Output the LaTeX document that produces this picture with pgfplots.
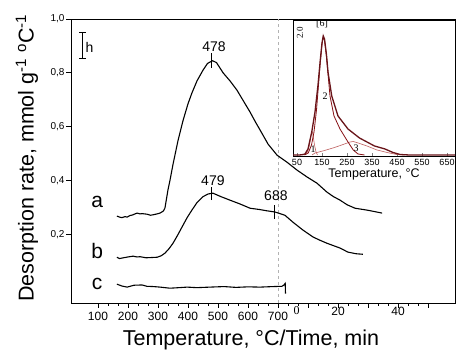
\documentclass[border=0pt]{standalone}
\usepackage{pgfplots}
\pgfplotsset{compat=1.18}
\usepackage{fontspec}
\setmainfont{Liberation Sans}
\newfontfamily\seriffont{Liberation Serif}
\definecolor{dred}{RGB}{105,20,25}
\definecolor{lred}{RGB}{190,95,95}
\begin{document}
\begin{tikzpicture}[x=1pt,y=1pt]
\useasboundingbox (0,0) rectangle (474,361);
\begin{axis}[at={(71pt,58pt)}, anchor=south west, scale only axis,
  width=384pt, height=284pt,
  xmin=10, xmax=1290, ymin=-0.055, ymax=1.0,
  axis line style={line width=0.9pt},
  tick style={black, line width=0.7pt},
  tick align=outside, xtick pos=bottom, ytick pos=left,
  major tick length=5pt, minor tick length=3pt,
  xtick={100,200,...,1200},
  xticklabels={100,200,300,400,500,600,700,{},{},{},{},{}},
  minor x tick num=2,
  extra x ticks={900,1100}, extra x tick labels={20,40},
  extra x tick style={major tick length=0pt, tick label style={font=\seriffont\fontsize{12}{14}\selectfont}},
  ytick={0.2,0.4,0.6,0.8,1.0},
  yticklabels={{0,2},{0,4},{0,6},{0,8},{1,0}},
  x tick label style={font=\fontsize{12}{14}\selectfont, yshift=-1pt},
  y tick label style={font=\fontsize{10}{12}\selectfont, xshift=2pt},
  /pgf/number format/assume math mode=true,
  clip=false]
\addplot[gray!60, dashed, line width=0.7pt] coordinates {(700,-0.055)(700,1.0)};
% curve a
\addplot[black, line width=1.1pt] coordinates {
(163,0.268)(172,0.264)(180,0.262)(190,0.266)(197,0.264)(207,0.27)(215,0.272)(230,0.279)(240,0.276)(247,0.277)(263,0.275)(275,0.271)(285,0.273)(297,0.276)(307,0.279)(318,0.287)(323,0.297)(328,0.33)(333,0.364)(340,0.401)(350,0.46)(367,0.55)(384,0.625)(400,0.685)(413,0.725)(430,0.77)(450,0.81)(465,0.835)(482,0.845)(495,0.838)(517,0.80)(540,0.77)(563,0.736)(585,0.695)(607,0.654)(625,0.617)(640,0.588)(667,0.535)(697,0.494)(730,0.468)(763,0.439)(797,0.413)(830,0.39)(863,0.357)(885,0.34)(907,0.327)(930,0.31)(957,0.297)(980,0.293)(997,0.29)(1020,0.285)(1047,0.279)};
% curve b
\addplot[black, line width=1.1pt] coordinates {
(163,0.115)(172,0.11)(180,0.112)(200,0.116)(217,0.119)(230,0.116)(240,0.117)(260,0.113)(280,0.114)(297,0.115)(310,0.12)(323,0.13)(337,0.147)(350,0.167)(365,0.196)(380,0.227)(397,0.262)(413,0.29)(430,0.318)(450,0.34)(467,0.35)(483,0.353)(510,0.34)(540,0.327)(573,0.313)(607,0.297)(640,0.292)(660,0.288)(690,0.283)(723,0.271)(750,0.245)(783,0.216)(817,0.19)(840,0.178)(863,0.167)(885,0.158)(907,0.149)(933,0.134)(960,0.128)(983,0.126)};
% curve c
\addplot[black, line width=1.1pt] coordinates {
(163,0.015)(180,0.008)(197,0.004)(220,0.011)(247,0.012)(263,0.007)(285,0.006)(307,0.004)(340,0.0)(370,0.002)(397,0.004)(430,0.002)(473,0.004)(520,0.006)(560,0.003)(600,0.005)(640,0.004)(683,0.006)(713,0.007)(720,0.012)(724,0.018)(725,-0.02)};
% peak markers
\addplot[black, line width=0.6pt] coordinates {(478,0.818)(478,0.874)};
\addplot[black, line width=0.6pt] coordinates {(479,0.327)(479,0.375)};
\addplot[black, line width=0.6pt] coordinates {(688,0.257)(688,0.309)};
% scale bar h
\addplot[black, line width=0.7pt, |-|] coordinates {(47,0.851)(47,0.952)};
\node[font=\fontsize{14}{16}\selectfont] at (axis cs:72,0.895) {h};
\node[font=\fontsize{14}{16}\selectfont] at (axis cs:487,0.896) {478};
\node[font=\fontsize{14}{16}\selectfont] at (axis cs:483,0.40) {479};
\node[font=\fontsize{14}{16}\selectfont] at (axis cs:693,0.342) {688};
\node[font=\fontsize{21}{24}\selectfont] at (axis cs:97,0.32) {a};
\node[font=\fontsize{21}{24}\selectfont] at (axis cs:97,0.14) {b};
\node[font=\fontsize{21}{24}\selectfont] at (axis cs:97,0.017) {c};
\node[font=\seriffont\fontsize{12}{14}\selectfont, anchor=north] at (axis cs:762,-0.055) {0};
\end{axis}
\begin{axis}[at={(293pt,205pt)}, anchor=south west, scale only axis,
  width=162pt, height=136pt,
  xmin=34, xmax=682, ymin=-1, ymax=135,
  axis background/.style={fill=white},
  axis line style={line width=0.8pt},
  xtick={50,150,...,650}, ytick=\empty,
  xtick pos=bottom, tick align=inside, major tick length=3pt,
  x tick label style={font=\fontsize{9}{11}\selectfont},
  /pgf/number format/assume math mode=true,
  xlabel={Temperature, °C},
  xlabel style={font=\fontsize{12.5}{14}\selectfont, yshift=4pt},
  clip=false]
\addplot[lred, line width=0.6pt] coordinates {(80,0)(92,3)(100,10)(106,20)(110,24)(114,20)(120,10)(126,3)(132,0)};
\addplot[lred, line width=0.6pt] coordinates {(110,0)(122,2)(160,4.5)(200,7.5)(240,11)(262,13)(275,13.5)(295,12)(330,9)(370,5)(410,2.5)(450,0.5)(480,0)};
\addplot[dred!80!red, line width=0.8pt] coordinates {(80,0)(95,2)(108,10)(118,23)(128,45)(136,70)(143,92)(150,111)(155,118)(160,115)(168,98)(174,81)(182,59)(198,39)(222,26)(254,13)(275,5)(294,1)(320,0)};
\addplot[dred, line width=1.3pt] coordinates {(34,0)(60,0)(75,0.5)(82,1)(94,6)(109,23)(122,43)(134,70)(142,92)(150,112)(155,119)(160,116)(168,100)(174,83)(189,59)(214,39)(254,26)(300,17)(330,13)(360,9)(402,6)(434,2.5)(462,0.5)(500,0)(682,0)};
\node[font=\seriffont\fontsize{10}{12}\selectfont] at (axis cs:114,6) {1};
\node[font=\seriffont\fontsize{10}{12}\selectfont] at (axis cs:162,59) {2};
\node[font=\seriffont\fontsize{10}{12}\selectfont] at (axis cs:286,7) {3};
\node[font=\seriffont\fontsize{10}{12}\selectfont] at (axis cs:150,131) {[6]};
\node[font=\seriffont\fontsize{9}{11}\selectfont, rotate=90] at (axis cs:62,122) {2.0};
\end{axis}
\node[rotate=90, font=\fontsize{21.5}{24}\selectfont] at (27,203) {Desorption rate, mmol g\textsuperscript{-1} \textsuperscript{o}C\textsuperscript{-1}};
\node[font=\fontsize{21.5}{24}\selectfont] at (251,21) {Temperature, °C/Time, min};
\end{tikzpicture}
\end{document}
